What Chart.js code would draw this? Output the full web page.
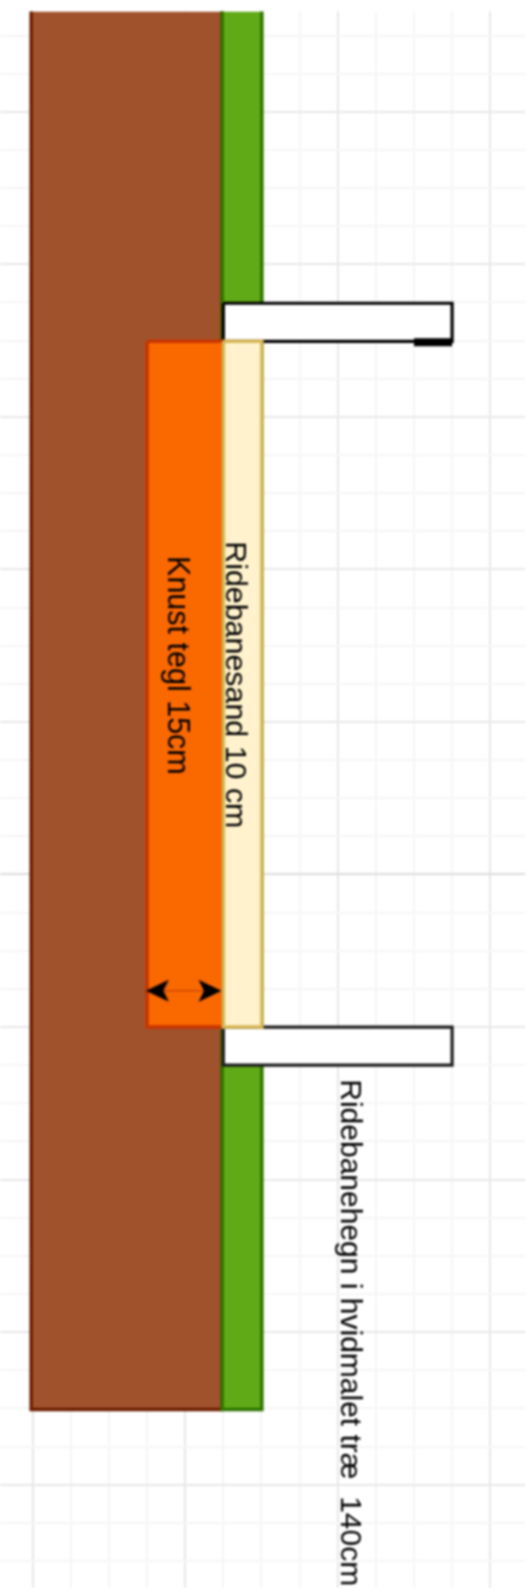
<!DOCTYPE html>
<html lang="da">
<head>
    <meta charset="UTF-8">
    <title>Ridebane snit</title>
    <script src="https://cdn.jsdelivr.net/npm/chart.js"></script>
    <style>
        body {
            margin: 0;
            background: #ffffff;
        }

        #plan {
            display: block;
            filter: blur(0.8px);
        }
    </style>
</head>
<body>
    <canvas id="plan" width="532" height="1588"></canvas>

    <script>
        // one unit = one grid square of the drawing
        const layerNames = ['Jord', 'Græs', 'Hegn øverst', 'Hegn nederst', 'Knust tegl', 'Ridebanesand'];
        const layerLeft = [-0.04, 4.97, 5, 5, 3, 5];
        const layerRight = [4.97, 6.01, 11, 11, 5, 6.01];
        const layerTop = [-3, -3, 5.02, 24, 6.02, 6.02];
        const layerBottom = [34.03, 34.03, 6.02, 25, 24, 24];

        const layerFill = ['#a0522d', '#60a917', '#ffffff', '#ffffff', '#fa6800', '#fff2cc'];
        const layerStroke = ['#6d1f00', '#2d7600', '#000000', '#1c1c1c', '#c73500', '#d6b656'];
        const layerStrokeWidth = [3.5, 3.5, 3.2, 3.2, 3.5, 3.5];

        const postX = [10, 11];
        const postY = [6.04, 6.04];

        const arrowX = [3.27, 4.65];
        const arrowY = [23.05, 23.05];

        const labelTexts = ['Knust tegl 15cm', 'Ridebanesand 10 cm', 'Ridebanehegn i hvidmalet træ  140cm'];
        const labelX = [3.56, 5.06, 8.08];
        const labelY = [11.65, 11.26, 25.37];
        const labelSizes = [30.5, 30.4, 30];

        const gridX = [-0.858, 12.92];
        const gridY = [-2.63, 38.71];

        // arrow head, the classic notched shape
        function makeArrowHead() {
            const head = document.createElement('canvas');
            head.width = 24;
            head.height = 24;
            const c = head.getContext('2d');
            c.fillStyle = '#000000';
            c.beginPath();
            c.moveTo(23.5, 12);
            c.lineTo(0.5, 1);
            c.lineTo(6, 12);
            c.lineTo(0.5, 23);
            c.closePath();
            c.fill();
            return head;
        }

        function buildDatasets() {
            const sets = [];
            layerNames.forEach(function (name, i) {
                // fill from top edge down to the bottom value
                sets.push({
                    label: name,
                    data: [
                        { x: layerLeft[i], y: layerTop[i] },
                        { x: layerRight[i], y: layerTop[i] }
                    ],
                    borderWidth: 0,
                    pointRadius: 0,
                    backgroundColor: layerFill[i],
                    fill: { value: layerBottom[i] },
                    clip: 0
                });
                // outline
                sets.push({
                    label: name + ' kant',
                    data: [
                        { x: layerLeft[i], y: layerTop[i] },
                        { x: layerRight[i], y: layerTop[i] },
                        { x: layerRight[i], y: layerBottom[i] },
                        { x: layerLeft[i], y: layerBottom[i] },
                        { x: layerLeft[i], y: layerTop[i] }
                    ],
                    borderColor: layerStroke[i],
                    borderWidth: layerStrokeWidth[i],
                    borderJoinStyle: 'miter',
                    pointRadius: 0,
                    fill: false,
                    clip: 0
                });
                // thick foot under the upper fence part
                if (i === 2) {
                    sets.push({
                        label: 'Stolpe',
                        data: postX.map(function (x, k) { return { x: x, y: postY[k] }; }),
                        borderColor: '#000000',
                        borderWidth: 8,
                        pointRadius: 0,
                        fill: false,
                        clip: 0
                    });
                }
            });
            const head = makeArrowHead();
            sets.push({
                label: 'Mål',
                data: arrowX.map(function (x, k) { return { x: x, y: arrowY[k] }; }),
                borderColor: '#b83a00',
                borderWidth: 1,
                pointStyle: head,
                pointRadius: 12,
                pointRotation: [180, 0],
                fill: false,
                clip: 0
            });
            // Chart.js paints the first dataset last
            return sets.reverse();
        }

        // rotated labels, placed through the scales
        const labelPlugin = {
            id: 'labels',
            afterDatasetsDraw: function (chart) {
                const ctx = chart.ctx;
                ctx.save();
                ctx.fillStyle = '#000000';
                ctx.textAlign = 'left';
                ctx.textBaseline = 'alphabetic';
                labelTexts.forEach(function (text, i) {
                    ctx.save();
                    ctx.font = labelSizes[i] + 'px "Liberation Sans"';
                    ctx.translate(chart.scales.x.getPixelForValue(labelX[i]), chart.scales.y.getPixelForValue(labelY[i]));
                    ctx.rotate(Math.PI / 2);
                    ctx.fillText(text, 0, 0);
                    ctx.restore();
                });
                ctx.restore();
            }
        };

        function gridColorX(context) {
            return context.tick.value % 4 === 0 ? '#e8e8e8' : '#f6f6f6';
        }

        function gridColorY(context) {
            if (context.tick.value === 20) {
                return '#dcdcdc';
            }
            return context.tick.value % 4 === 0 ? '#e8e8e8' : '#f6f6f6';
        }

        new Chart(document.getElementById('plan').getContext('2d'), {
            type: 'line',
            data: { datasets: buildDatasets() },
            options: {
                responsive: false,
                animation: false,
                devicePixelRatio: 1,
                layout: { autoPadding: false, padding: { left: 0, top: 11.5, right: 6.7, bottom: 0 } },
                plugins: {
                    legend: { display: false },
                    tooltip: { enabled: false },
                    title: { display: false }
                },
                scales: {
                    x: {
                        type: 'linear',
                        min: gridX[0],
                        max: gridX[1],
                        border: { display: false },
                        grid: { color: gridColorX, lineWidth: 2, drawTicks: false },
                        ticks: { display: false, stepSize: 1, includeBounds: false, padding: 0 }
                    },
                    y: {
                        type: 'linear',
                        reverse: true,
                        min: gridY[0],
                        max: gridY[1],
                        border: { display: false },
                        grid: { color: gridColorY, lineWidth: 2, drawTicks: false },
                        ticks: { display: false, stepSize: 1, includeBounds: false, padding: 0 }
                    }
                }
            },
            plugins: [labelPlugin]
        });
    </script>
</body>
</html>
